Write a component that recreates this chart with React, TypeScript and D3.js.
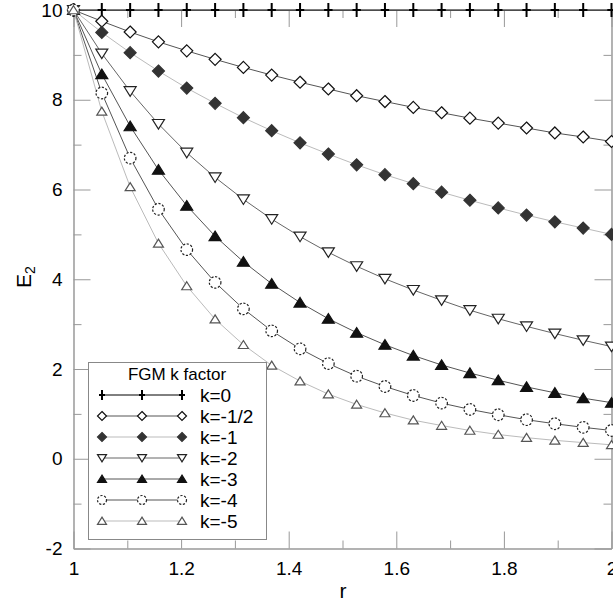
import { useRef, useEffect } from "react";
import * as d3 from "d3";

// r sample points (20 per curve)
const rValues = [
  1, 1.0526, 1.1053, 1.1579, 1.2105, 1.2632, 1.3158, 1.3684, 1.4211, 1.4737,
  1.5263, 1.5789, 1.6316, 1.6842, 1.7368, 1.7895, 1.8421, 1.8947, 1.9474, 2,
];

const kZero = [10, 10, 10, 10, 10, 10, 10, 10, 10, 10, 10, 10, 10, 10, 10, 10, 10, 10, 10, 10];
const kHalf = [10, 9.75, 9.51, 9.29, 9.09, 8.9, 8.72, 8.55, 8.39, 8.24, 8.09, 7.96, 7.83, 7.71, 7.59, 7.48, 7.37, 7.26, 7.17, 7.07];
const kOne = [10, 9.5, 9.05, 8.64, 8.26, 7.92, 7.6, 7.31, 7.04, 6.79, 6.55, 6.33, 6.13, 5.94, 5.76, 5.59, 5.43, 5.28, 5.14, 5.0];
const kTwo = [10, 9.03, 8.19, 7.46, 6.82, 6.27, 5.78, 5.34, 4.95, 4.6, 4.29, 4.01, 3.76, 3.53, 3.31, 3.12, 2.95, 2.79, 2.64, 2.5];
const kThree = [10, 8.57, 7.41, 6.44, 5.64, 4.96, 4.39, 3.9, 3.48, 3.12, 2.81, 2.54, 2.3, 2.09, 1.91, 1.75, 1.6, 1.47, 1.35, 1.25];
const kFour = [10, 8.15, 6.7, 5.56, 4.66, 3.93, 3.34, 2.85, 2.45, 2.12, 1.84, 1.61, 1.41, 1.24, 1.1, 0.98, 0.87, 0.78, 0.7, 0.63];
const kFive = [10, 7.74, 6.06, 4.8, 3.85, 3.11, 2.54, 2.08, 1.73, 1.44, 1.21, 1.02, 0.86, 0.74, 0.63, 0.54, 0.47, 0.41, 0.36, 0.31];

const seriesNames = ["k=0", "k=-1/2", "k=-1", "k=-2", "k=-3", "k=-4", "k=-5"];
const seriesValues = [kZero, kHalf, kOne, kTwo, kThree, kFour, kFive];

const xMajor = [1, 1.2, 1.4, 1.6, 1.8, 2];
const xMinor = [1.1, 1.3, 1.5, 1.7, 1.9];
const yMajor = [-2, 0, 2, 4, 6, 8, 10];
const yMinor = [-1, 1, 3, 5, 7, 9];

const styles = [
  { marker: "plus", line: "#000", stroke: "#000", fill: "none", lw: 1.2 },
  { marker: "diamond", line: "#555", stroke: "#111", fill: "#fff", lw: 1 },
  { marker: "diamond", line: "#bbb", stroke: "#333", fill: "#333", lw: 1 },
  { marker: "triDown", line: "#666", stroke: "#222", fill: "#fff", lw: 1 },
  { marker: "triUp", line: "#555", stroke: "#111", fill: "#111", lw: 1 },
  { marker: "circle", line: "#555", stroke: "#222", fill: "#fff", lw: 1 },
  { marker: "triUp", line: "#bbb", stroke: "#555", fill: "#fff", lw: 1 },
];

const markerPath = (type, s) => {
  switch (type) {
    case "plus":
      return `M0,${-s}V${s}M${-s * 0.6},0H${s * 0.6}`;
    case "diamond":
      return `M0,${-s}L${s},0L0,${s}L${-s},0Z`;
    case "triDown":
      return `M${-s},${-s * 0.75}L${s},${-s * 0.75}L0,${s * 0.85}Z`;
    case "triUp":
      return `M0,${-s * 0.85}L${s},${s * 0.75}L${-s},${s * 0.75}Z`;
    default:
      return "";
  }
};

const Marker = ({ st, x, y, s }) =>
  st.marker === "circle" ? (
    <circle cx={x} cy={y} r={s} fill={st.fill} stroke={st.stroke} strokeWidth={1.2} strokeDasharray="2.2,1.6" />
  ) : (
    <path
      transform={`translate(${x},${y})`}
      d={markerPath(st.marker, s)}
      fill={st.fill}
      stroke={st.stroke}
      strokeWidth={st.marker === "plus" ? 2 : 1.2}
    />
  );

const App = () => {
  const gRef = useRef(null);
  const width = 613;
  const height = 607;
  const margin = { top: 10, right: 1, bottom: 59, left: 73 };

  const x = d3.scaleLinear().domain([1, 2]).range([margin.left + 0.5, width - margin.right - 0.5]);
  const y = d3.scaleLinear().domain([-2, 10]).range([height - margin.bottom + 0.5, margin.top]);

  const line = d3
    .line()
    .x((d) => x(d[0]))
    .y((d) => y(d[1]));

  useEffect(() => {
    const g = d3.select(gRef.current);
    g.selectAll("*").remove();

    const fmt = (d) => `${d}`;
    const addAxis = (axis, transform) => {
      const a = g.append("g").attr("transform", transform).call(axis);
      a.select(".domain").attr("stroke", "#999");
      a.selectAll(".tick line").attr("stroke", "#999");
      a.selectAll("text")
        .attr("font-family", "Arial, 'Liberation Sans', sans-serif")
        .attr("font-size", 19)
        .attr("fill", "#000");
      a.attr("font-family", null).attr("font-size", null);
      return a;
    };

    // left
    addAxis(d3.axisLeft(y).tickValues(yMajor).tickSizeInner(-17).tickSizeOuter(0).tickPadding(11).tickFormat(fmt), `translate(${x(1)},0)`);
    addAxis(d3.axisLeft(y).tickValues(yMinor).tickSizeInner(-8).tickSizeOuter(0).tickFormat(() => ""), `translate(${x(1)},0)`);
    // right
    addAxis(d3.axisRight(y).tickValues(yMajor).tickSizeInner(-17).tickSizeOuter(0).tickFormat(() => ""), `translate(${x(2)},0)`);
    addAxis(d3.axisRight(y).tickValues(yMinor).tickSizeInner(-8).tickSizeOuter(0).tickFormat(() => ""), `translate(${x(2)},0)`);
    // bottom
    addAxis(d3.axisBottom(x).tickValues(xMajor).tickSizeInner(-17).tickSizeOuter(0).tickPadding(13).tickFormat(fmt), `translate(0,${y(-2)})`);
    addAxis(d3.axisBottom(x).tickValues(xMinor).tickSizeInner(-8).tickSizeOuter(0).tickFormat(() => ""), `translate(0,${y(-2)})`);
    // top
    addAxis(d3.axisTop(x).tickValues(xMajor).tickSizeInner(-17).tickSizeOuter(0).tickFormat(() => ""), `translate(0,${y(10)})`);
    addAxis(d3.axisTop(x).tickValues(xMinor).tickSizeInner(-8).tickSizeOuter(0).tickFormat(() => ""), `translate(0,${y(10)})`);
  }, []);

  const legend = { x: 88, y: 362, w: 178, h: 177, row: 21 };
  const legendMarkX = [102, 142, 182];

  return (
    <svg width={width} height={height} style={{ position: "absolute", left: 0, top: 0 }} fontFamily="Arial, 'Liberation Sans', sans-serif">
      <rect width={width} height={height} fill="#fff" />
      <g ref={gRef} />

      {/* curves */}
      {seriesValues.map((vals, i) => (
        <path
          key={`l${i}`}
          d={line(vals.map((v, j) => [rValues[j], v]))}
          fill="none"
          stroke={styles[i].line}
          strokeWidth={styles[i].lw}
        />
      ))}
      {seriesValues.map((vals, i) =>
        vals.map((v, j) => (
          <Marker
            key={`m${i}-${j}`}
            st={styles[i]}
            x={x(rValues[j])}
            y={y(v)}
            s={i === 0 ? 7 : i === 6 ? 5 : i === 5 ? 5.8 : 6}
          />
        ))
      )}

      {/* legend */}
      <rect x={legend.x + 0.5} y={legend.y + 0.5} width={legend.w} height={legend.h} fill="#fff" stroke="#888" />
      <text x={legend.x + legend.w / 2} y={legend.y + 18} textAnchor="middle" fontSize={17}>
        FGM k factor
      </text>
      {seriesNames.map((name, i) => {
        const ly = legend.y + 33 + i * legend.row;
        return (
          <g key={`lg${i}`}>
            <line x1={legendMarkX[0]} x2={legendMarkX[2]} y1={ly} y2={ly} stroke={styles[i].line} />
            {legendMarkX.map((mx) => (
              <Marker key={mx} st={styles[i]} x={mx} y={ly} s={i === 0 ? 5 : 4.5} />
            ))}
            <text x={200} y={ly} dy="0.35em" fontSize={19}>
              {name}
            </text>
          </g>
        );
      })}

      {/* axis titles */}
      <text x={343} y={598} textAnchor="middle" fontSize={21}>
        r
      </text>
      <text transform="translate(31,277) rotate(-90)" textAnchor="middle" fontSize={21}>
        E<tspan fontSize={14} dy={4}>2</tspan>
      </text>
    </svg>
  );
};

export default App;
